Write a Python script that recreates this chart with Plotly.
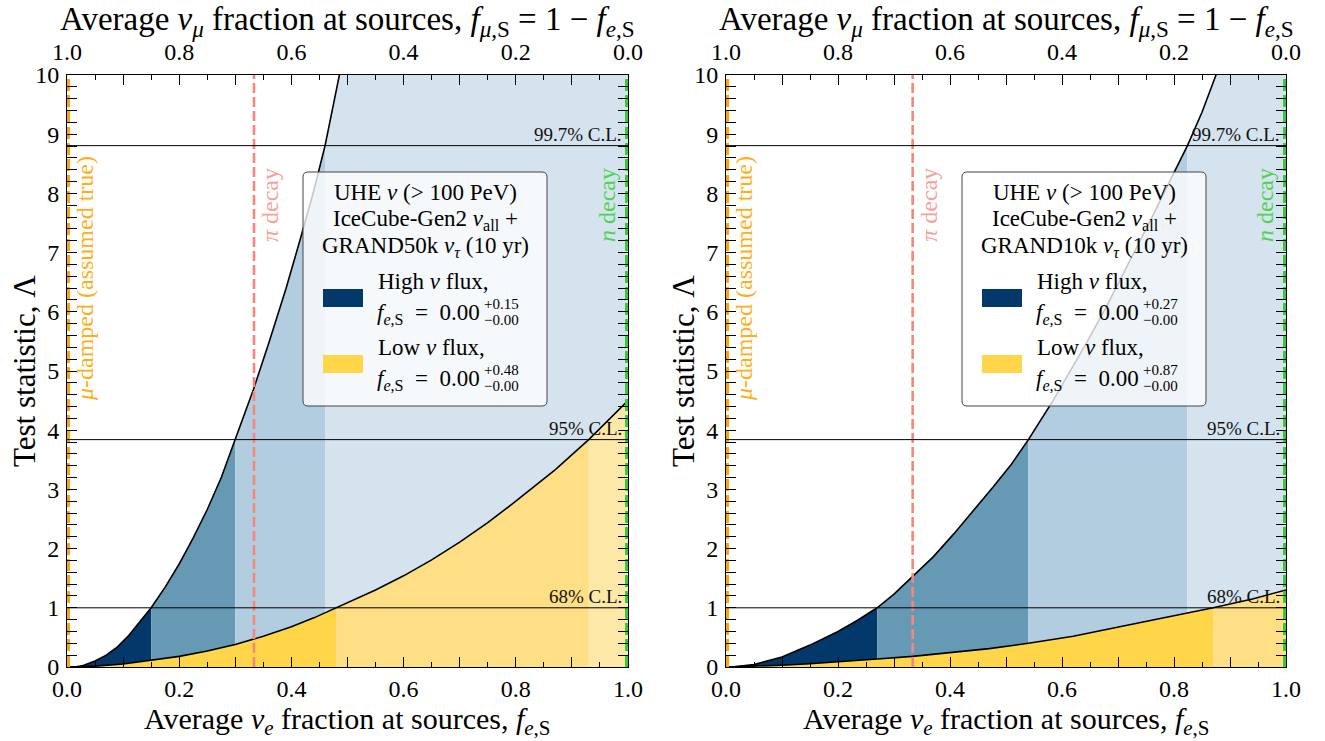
import numpy as np
import plotly.graph_objects as go

W, H = 1325, 741
FONT = "Liberation Serif"

# Test-statistic thresholds (1 d.o.f.) and their labels
CL_LEVELS = [1.0, 3.841, 8.807]
CL_NAMES = ["68% C.L.", "95% C.L.", "99.7% C.L."]

# Left panel: IceCube-Gen2 + GRAND50k, high-flux curve Λ(f_e,S)
HIGH50_F = [0.0, 0.017, 0.03, 0.05, 0.07, 0.09, 0.11, 0.13, 0.15, 0.175, 0.20, 0.225,
            0.25, 0.275, 0.30, 0.332, 0.36, 0.39, 0.415, 0.44, 0.46, 0.487, 0.55, 0.70, 1.0]
HIGH50_LAM = [0.0, 0.0, 0.03, 0.10, 0.20, 0.34, 0.53, 0.76, 1.0, 1.35, 1.74, 2.18,
              2.66, 3.20, 3.841, 4.68, 5.48, 6.38, 7.20, 8.05, 8.807, 10.0, 13.0, 20.0, 35.0]
# Left panel: low-flux curve
LOW50_F = [0.0, 0.05, 0.10, 0.15, 0.20, 0.25, 0.30, 0.35, 0.40, 0.44, 0.48, 0.55, 0.60,
           0.65, 0.70, 0.75, 0.80, 0.87, 0.93, 1.0]
LOW50_LAM = [0.0, 0.015, 0.05, 0.11, 0.18, 0.27, 0.38, 0.52, 0.68, 0.83, 1.0, 1.30, 1.54,
             1.81, 2.11, 2.44, 2.80, 3.33, 3.841, 4.5]
HIGH50_EDGES = [0.15, 0.30, 0.46]
LOW50_EDGES = [0.48, 0.93]

# Right panel: IceCube-Gen2 + GRAND10k
HIGH10_F = [0.0, 0.01, 0.05, 0.10, 0.15, 0.20, 0.235, 0.27, 0.30, 0.333, 0.37, 0.406,
            0.44, 0.477, 0.51, 0.54, 0.584, 0.62, 0.644, 0.68, 0.703, 0.73, 0.762, 0.79,
            0.824, 0.85, 0.875, 0.95, 1.0]
HIGH10_LAM = [0.0, 0.0, 0.04, 0.17, 0.37, 0.60, 0.79, 1.0, 1.23, 1.52, 1.86, 2.24,
              2.62, 3.04, 3.43, 3.841, 4.50, 5.08, 5.48, 6.10, 6.52, 7.02, 7.62, 8.16,
              8.807, 9.37, 10.0, 12.2, 13.8]
LOW10_F = [0.0, 0.05, 0.10, 0.15, 0.20, 0.27, 0.333, 0.40, 0.47, 0.54, 0.62, 0.703, 0.80,
           0.87, 0.94, 1.0]
LOW10_LAM = [0.0, 0.01, 0.03, 0.055, 0.085, 0.135, 0.18, 0.24, 0.31, 0.40, 0.52, 0.68,
             0.86, 1.0, 1.15, 1.3]
HIGH10_EDGES = [0.27, 0.54, 0.824]
LOW10_EDGES = [0.87]

# Benchmark source compositions, f_e,S
SOURCES = [("<i>μ</i>-damped (assumed true)", 0.0, "#FFA500", "#FFAE1A"),
           ("<i>π</i> decay", 1 / 3, "#F8867A", "#F7A199"),
           ("<i>n</i> decay", 1.0, "#32CD32", "#4FD24F")]

X_TICKS = [round(0.1 * i, 1) for i in range(11)]
X_TICK_TEXT = [f"{v:.1f}" if i % 2 == 0 else "" for i, v in enumerate(X_TICKS)]
Y_TICKS = list(range(11))

BLUE_SHADES = ["#03386B", "#6699B4", "#B3CDE0", "#D5E3EE"]
YELLOW_SHADES = ["#FFD54A", "#FEDF85", "#FEE8A8"]

PANELS = [
    dict(name="GRAND50k", high=(HIGH50_F, HIGH50_LAM, HIGH50_EDGES),
         low=(LOW50_F, LOW50_LAM, LOW50_EDGES), x0=67, x1=628),
    dict(name="GRAND10k", high=(HIGH10_F, HIGH10_LAM, HIGH10_EDGES),
         low=(LOW10_F, LOW10_LAM, LOW10_EDGES), x0=726, x1=1286),
]
Y_TOP, Y_BOT = 75, 667


def px(x):
    return x / W


def py(y):
    return 1 - y / H


def band(f, lam, a, b):
    f = np.asarray(f, float)
    lam = np.asarray(lam, float)
    m = (f >= a - 1e-9) & (f <= b + 1e-9)
    xs = np.concatenate([[a], f[m], [b]])
    ys = np.concatenate([[0.0], lam[m], [0.0]])
    return xs, ys


def note(x, y, text, size, color="black", xanchor="center", yanchor="middle", angle=0):
    return dict(x=px(x), y=py(y), xref="paper", yref="paper", text=text, showarrow=False,
                xanchor=xanchor, yanchor=yanchor, textangle=angle,
                font=dict(family=FONT, size=size, color=color))


fig = go.Figure()
shapes, annotations = [], []
layout_axes = {}

for k, p in enumerate(PANELS):
    xa = "x" if k == 0 else "x2"
    ya = "y" if k == 0 else "y2"
    xt = "x3" if k == 0 else "x4"

    # shaded confidence bands, high flux underneath, low flux on top
    for (f, lam, edges), shades in ((p["high"], BLUE_SHADES), (p["low"], YELLOW_SHADES)):
        bounds = [0.0] + list(edges) + [1.0]
        for i in range(len(bounds) - 1):
            xs, ys = band(f, lam, bounds[i], bounds[i + 1])
            fig.add_trace(go.Scatter(x=xs, y=ys, xaxis=xa, yaxis=ya, mode="lines",
                                     fill="toself", fillcolor=shades[i],
                                     line=dict(width=0), hoverinfo="skip",
                                     showlegend=False))
    for f, lam, _ in (p["high"], p["low"]):
        fig.add_trace(go.Scatter(x=f, y=lam, xaxis=xa, yaxis=ya, mode="lines",
                                 line=dict(color="black", width=1.6),
                                 hoverinfo="skip", showlegend=False))

    # benchmark compositions
    for label, fv, lc, tc in SOURCES:
        wide = fv in (0.0, 1.0)
        fig.add_trace(go.Scatter(x=[fv, fv], y=[0, 10], xaxis=xa, yaxis=ya, mode="lines",
                                 line=dict(color=lc, width=6 if wide else 2.6,
                                           dash="12px,4px" if wide else "10px,4px"),
                                 hoverinfo="skip", showlegend=False))

    # invisible trace so the top axis is drawn
    fig.add_trace(go.Scatter(x=[0, 1], y=[None, None], xaxis=xt, yaxis=ya,
                             mode="markers", showlegend=False, hoverinfo="skip"))

    x0, x1 = p["x0"], p["x1"]
    pw = x1 - x0

    def fx(v):
        return x0 + v * pw

    def fy(v):
        return Y_BOT - v * (Y_BOT - Y_TOP) / 10

    # confidence-level lines and labels
    for lev, name in zip(CL_LEVELS, CL_NAMES):
        shapes.append(dict(type="line", xref=xa, yref=ya, x0=0, x1=1, y0=lev, y1=lev,
                           line=dict(color="black", width=1), layer="above"))
        annotations.append(note(x1 - 4, fy(lev) + 1, name, 19, "#111",
                                xanchor="right", yanchor="bottom"))

    # benchmark labels
    for (label, fv, lc, tc), (dxp, cy) in zip(SOURCES, [(18, 279), (16, 205), (-21, 205)]):
        annotations.append(note(fx(fv) + dxp, cy, label, 24, tc, angle=-90))

    # legend box
    bx0, bx1, by0, by1, r = x0 + 236, x0 + 480, 172, 406, 5
    path = (f"M {px(bx0 + r)},{py(by0)} L {px(bx1 - r)},{py(by0)} "
            f"Q {px(bx1)},{py(by0)} {px(bx1)},{py(by0 + r)} L {px(bx1)},{py(by1 - r)} "
            f"Q {px(bx1)},{py(by1)} {px(bx1 - r)},{py(by1)} L {px(bx0 + r)},{py(by1)} "
            f"Q {px(bx0)},{py(by1)} {px(bx0)},{py(by1 - r)} L {px(bx0)},{py(by0 + r)} "
            f"Q {px(bx0)},{py(by0)} {px(bx0 + r)},{py(by0)} Z")
    shapes.append(dict(type="path", xref="paper", yref="paper", path=path,
                       fillcolor="rgba(255,255,255,0.78)", line=dict(color="#444", width=1),
                       layer="above"))
    cx = (bx0 + bx1) / 2
    for txt, cy in (("UHE <i>ν</i> (&gt; 100 PeV)", 192),
                    ("IceCube-Gen2 <i>ν</i><sub>all</sub> +", 220),
                    (f"{p['name']} <i>ν</i><sub><i>τ</i></sub> (10 yr)", 247)):
        annotations.append(note(cx, cy, txt, 23))
    entries = [("High", BLUE_SHADES[0], p["high"][2][0], 0),
               ("Low", YELLOW_SHADES[0], p["low"][2][0], 66)]
    for word, col, up, dy in entries:
        shapes.append(dict(type="rect", xref="paper", yref="paper",
                           x0=px(x0 + 256), x1=px(x0 + 296),
                           y0=py(289 + dy), y1=py(307 + dy),
                           fillcolor=col, line=dict(width=0), layer="above"))
        annotations.append(note(x0 + 309, 281 + dy, f"{word} <i>ν</i> flux,", 23,
                                xanchor="left"))
        annotations.append(note(x0 + 415, 314 + dy,
                                "<i>f</i><sub><i>e</i>,S</sub>&nbsp; =&nbsp; 0.00", 23,
                                xanchor="right"))
        annotations.append(note(x0 + 415, 304 + dy, f"+{up:.2f}", 15, xanchor="left"))
        annotations.append(note(x0 + 415, 320 + dy, "−0.00", 15, xanchor="left"))

    # axis titles
    mid = (x0 + x1) / 2
    annotations.append(note(mid, 721, "Average <i>ν<sub>e</sub></i> fraction at sources, "
                                      "<i>f</i><sub><i>e</i>,S</sub>", 30))
    annotations.append(note(mid, 21, "Average <i>ν<sub>μ</sub></i> fraction at sources, "
                                     "<i>f</i><sub><i>μ</i>,S</sub> = 1 − "
                                     "<i>f</i><sub><i>e</i>,S</sub>", 33))
    annotations.append(note(x0 - 42, (Y_TOP + Y_BOT) / 2, "Test statistic, Λ", 31,
                            angle=-90))

    dom_x = [px(x0), px(x1)]
    dom_y = [py(Y_BOT), py(Y_TOP)]
    tickfont = dict(family=FONT, size=24, color="black")
    common_x = dict(tickmode="array", tickvals=X_TICKS, ticktext=X_TICK_TEXT,
                    ticks="inside", ticklen=10, tickwidth=1, tickcolor="black",
                    minor=dict(tick0=0, dtick=0.05, ticks="inside", ticklen=5,
                               tickwidth=1, tickcolor="black"),
                    showline=True, linecolor="black", linewidth=1, showgrid=False,
                    zeroline=False, tickfont=tickfont, domain=dom_x, fixedrange=True,
                    automargin=False)
    sfx = "" if k == 0 else "2"
    layout_axes[f"xaxis{sfx}"] = dict(common_x, range=[0, 1], anchor=ya, side="bottom",
                                      ticklabelstandoff=0)
    layout_axes["xaxis" + ("3" if k == 0 else "4")] = dict(
        common_x, range=[1, 0], anchor=ya, side="top", overlaying=xa,
        ticklabelstandoff=4)
    layout_axes[f"yaxis{sfx}"] = dict(
        domain=dom_y, range=[0, 10], anchor=xa, tickmode="array", tickvals=Y_TICKS,
        ticks="inside", ticklen=10, tickwidth=1, tickcolor="black",
        minor=dict(tick0=0, dtick=0.2, ticks="inside", ticklen=5, tickwidth=1,
                   tickcolor="black"),
        showline=True, linecolor="black", linewidth=1, mirror="allticks",
        showgrid=False, zeroline=False, tickfont=tickfont, fixedrange=True,
        automargin=False, ticklabelstandoff=2)

fig.update_layout(width=W, height=H, margin=dict(l=0, r=0, t=0, b=0),
                  paper_bgcolor="white", plot_bgcolor="white",
                  shapes=shapes, annotations=annotations, showlegend=False,
                  **layout_axes)

fig.write_html("out.html")
